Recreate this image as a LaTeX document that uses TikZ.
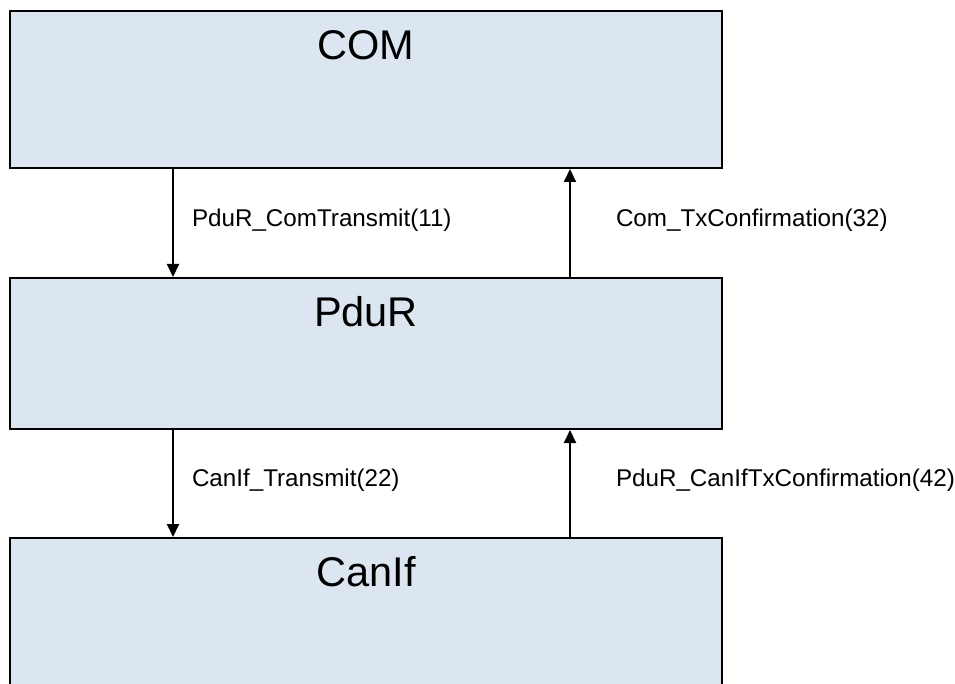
\documentclass[tikz,border=0pt]{standalone}
\usepackage{fontspec}
\setmainfont{Liberation Sans}
\usetikzlibrary{arrows.meta,calc}
\definecolor{boxfill}{HTML}{DCE6F0}
\tikzset{
  layer/.style={draw=black, fill=boxfill, line width=2pt, rectangle, minimum width=712pt, inner sep=0pt},
  title/.style={font=\fontsize{41.5}{48}\selectfont, anchor=center},
  arr/.style={line width=2pt, -{Triangle[length=13pt,width=12pt]}},
  lbl/.style={font=\fontsize{24.2}{28}\selectfont, anchor=west, inner sep=0pt}
}
\begin{document}
\begin{tikzpicture}[x=1pt,y=-1pt]
\useasboundingbox (0,0) rectangle (955,684);
\node[layer, minimum height=157pt] (com) at (366,89.5) {};
\node[layer, minimum height=151pt] (pdur) at (366,353.5) {};
\node[layer, minimum height=170pt] (canif) at (366,623) {};
\node[title] (comT) at (366,45) {COM};
\node[title] (pdurT) at (366,312) {PduR};
\node[title] (canifT) at (366,572) {CanIf};
\draw[arr] ($(com.south west)+(164,0)$) -- ($(pdur.north west)+(164,0)$)
  node[lbl, pos=0.5, xshift=18pt, yshift=3pt] (l11) {PduR\_ComTransmit(11)};
\draw[arr] ($(pdur.north west)+(561,0)$) -- ($(com.south west)+(561,0)$)
  node[lbl, pos=0.5, xshift=45pt, yshift=3pt] (l32) {Com\_TxConfirmation(32)};
\draw[arr] ($(pdur.south west)+(164,0)$) -- ($(canif.north west)+(164,0)$)
  node[lbl, pos=0.5, xshift=18pt, yshift=3pt] (l22) {CanIf\_Transmit(22)};
\draw[arr] ($(canif.north west)+(561,0)$) -- ($(pdur.south west)+(561,0)$)
  node[lbl, pos=0.5, xshift=45pt, yshift=3pt] (l42) {PduR\_CanIfTxConfirmation(42)};
\end{tikzpicture}
\end{document}
